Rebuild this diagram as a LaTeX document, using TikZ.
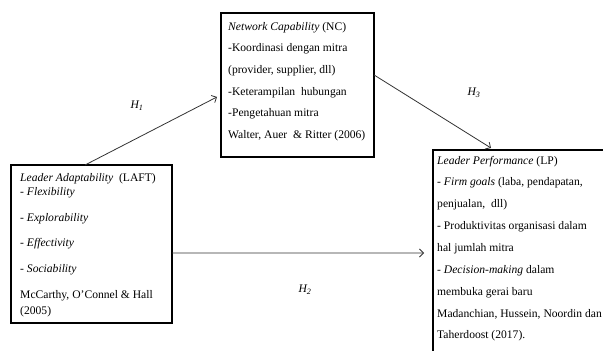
\documentclass[tikz,border=0pt]{standalone}
\usepackage{fontspec}
\setmainfont{Liberation Serif}
\usetikzlibrary{arrows.meta,calc}
\begin{document}
\begin{tikzpicture}[x=1pt,y=-1pt,
  framebox/.style={draw=black,line width=1.3pt,rectangle,inner sep=0pt,outer sep=0pt},
  edge/.style={draw=black,line width=1.3pt},
  txt/.style={anchor=west,inner sep=0pt,font=\fontsize{11.6}{13}\selectfont},
  hyp/.style={inner sep=0pt,font=\fontsize{11.6}{13}\selectfont\itshape},
  conn/.style={draw=black!80,line width=0.8pt,-{Straight Barb[length=4pt,width=8pt]}}]
\useasboundingbox (0,0) rectangle (603,351);
\fill[white] (0,0) rectangle (603,351);
% boxes
\node[framebox,minimum width=161pt,minimum height=158pt] (laft) at (91.5,244) {};
\node[framebox,minimum width=153pt,minimum height=144pt] (nc) at (297.5,85) {};
\coordinate (lp) at (433,150);
\draw[edge] (603,150) -- (lp) -- (433,351);
% LAFT text
\node[txt] (l1) at (20,179) {\textit{Leader Adaptability}\ \ (LAFT)};
\node[txt] (l2) at (20,193) {- \textit{Flexibility}};
\node[txt] (l3) at (20,219) {- \textit{Explorability}};
\node[txt] (l4) at (20,244) {- \textit{Effectivity}};
\node[txt] (l5) at (20,270) {- \textit{Sociability}};
\node[txt] (l6) at (20,296) {McCarthy, O'Connel \& Hall};
\node[txt] (l7) at (20,312) {(2005)};
% NC text
\node[txt] (n1) at (228,28) {\textit{Network Capability} (NC)};
\node[txt] (n2) at (228,49) {-Koordinasi dengan mitra};
\node[txt] (n3) at (228,71) {(provider, supplier, dll)};
\node[txt] (n4) at (228,93) {-Keterampilan\ \ hubungan};
\node[txt] (n5) at (228,114) {-Pengetahuan mitra};
\node[txt] (n6) at (228,136) {Walter, Auer\ \ \& Ritter (2006)};
% LP text
\node[txt] (p1) at (437,162) {\textit{Leader Performance} (LP)};
\node[txt] (p2) at (437,183) {- \textit{Firm goals} (laba, pendapatan,};
\node[txt] (p3) at (437,205) {penjualan,\ \ dll)};
\node[txt] (p4) at (437,227) {- Produktivitas organisasi dalam};
\node[txt] (p5) at (437,249) {hal jumlah mitra};
\node[txt] (p6) at (437,271) {- \textit{Decision-making} dalam};
\node[txt] (p7) at (437,293) {membuka gerai baru};
\node[txt] (p8) at (437,314) {Madanchian, Hussein, Noordin dan};
\node[txt] (p9) at (437,336) {Taherdoost (2017).};
% hypothesis labels
\node[hyp] (h1) at (137,106) {H\textsubscript{1}};
\node[hyp] (h3) at (474,93) {H\textsubscript{3}};
\node[hyp] (h2) at (305,290) {H\textsubscript{2}};
% connectors
\coordinate (h1end) at ($(nc.north west)!0.583!(nc.south west)+(-4,0)$);
\coordinate (h2end) at ($(lp)+(-9,103)$);
\coordinate (h3end) at ($(lp)+(58,-2)$);
\draw[conn] ($(laft.north west)!0.46!(laft.north east)$) -- (h1end);
\draw[conn] ($(laft.north east)!0.557!(laft.south east)$) -- (h2end);
\draw[conn] ($(nc.north east)!0.43!(nc.south east)$) -- (h3end);
\end{tikzpicture}
\end{document}
